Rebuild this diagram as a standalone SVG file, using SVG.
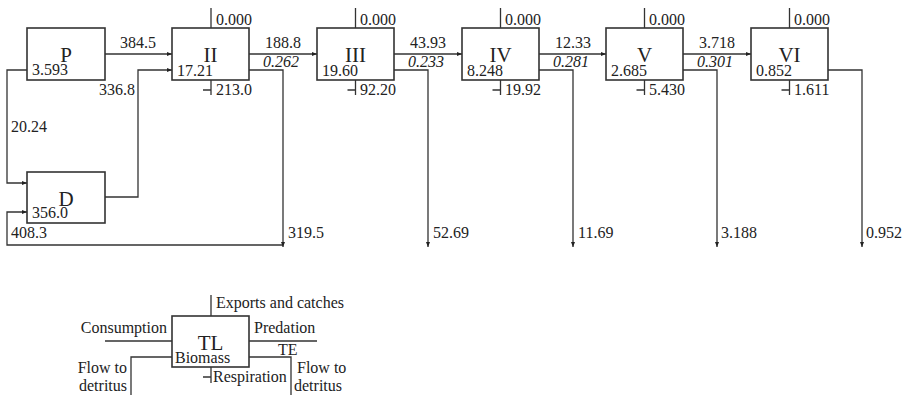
<svg xmlns="http://www.w3.org/2000/svg" width="904" height="395" viewBox="0 0 904 395">
<defs>
<marker id="ah" viewBox="0 0 10 10" refX="10" refY="5" markerWidth="5" markerHeight="5" orient="auto" markerUnits="userSpaceOnUse">
<path d="M0,1 L10,5 L0,9 Z" fill="#222"/>
</marker>
<style>
.box{fill:#fff;stroke:#333;stroke-width:1.6}
.ln{fill:none;stroke:#333;stroke-width:1.3}
.ar{fill:none;stroke:#333;stroke-width:1.3;marker-end:url(#ah)}
text{font-family:"Liberation Serif","Times New Roman",serif;fill:#222;font-size:16px}
.nm{font-size:21px;text-anchor:middle}
.mid{text-anchor:middle}
.it{font-style:italic;text-anchor:middle}
.end{text-anchor:end}
</style>
</defs>
<rect width="904" height="395" fill="#fff"/>

<g id="connectors">
<line class="ar" x1="105" y1="54" x2="172" y2="54"/>
<line class="ar" x1="249" y1="54" x2="317" y2="54"/>
<line class="ar" x1="394" y1="54" x2="462" y2="54"/>
<line class="ar" x1="539" y1="54" x2="606" y2="54"/>
<line class="ar" x1="683" y1="54" x2="751" y2="54"/>
<path class="ar" d="M27,70 H7 V183 H27"/>
<path class="ar" d="M105,197 H138 V70 H172"/>
<path class="ar" d="M283,245 H7 V212 H27"/>
<path class="ar" d="M249,70 H283 V247"/>
<path class="ar" d="M394,70 H428 V247"/>
<path class="ar" d="M539,70 H573 V247"/>
<path class="ar" d="M683,70 H717 V247"/>
<path class="ar" d="M828,70 H862 V247"/>
<path class="ln" d="M211,8 V28 M211,80 V95 M203,90 H211"/>
<path class="ln" d="M355.5,8 V28 M355.5,80 V95 M347.5,90 H355.5"/>
<path class="ln" d="M500.5,8 V28 M500.5,80 V95 M492.5,90 H500.5"/>
<path class="ln" d="M644.5,8 V28 M644.5,80 V95 M636.5,90 H644.5"/>
<path class="ln" d="M789.5,8 V28 M789.5,80 V95 M781.5,90 H789.5"/>
<text class="mid" x="138" y="48">384.5</text>
<text x="11" y="132">20.24</text>
<text x="99" y="95">336.8</text>
<text x="11" y="238">408.3</text>
<text class="mid" x="283" y="48">188.8</text>
<text class="it" x="281" y="67">0.262</text>
<text class="mid" x="428" y="48">43.93</text>
<text class="it" x="426" y="67">0.233</text>
<text class="mid" x="573" y="48">12.33</text>
<text class="it" x="571" y="67">0.281</text>
<text class="mid" x="717" y="48">3.718</text>
<text class="it" x="715" y="67">0.301</text>
<text x="288" y="238">319.5</text>
<text x="433" y="238">52.69</text>
<text x="578" y="238">11.69</text>
<text x="721" y="238">3.188</text>
<text x="866" y="238">0.952</text>
</g>

<g id="P">
<rect class="box" x="27" y="28" width="78" height="52"/>
<text class="nm" x="66" y="62">P</text>
<text x="32" y="75">3.593</text>
</g>
<g id="D">
<rect class="box" x="27" y="172" width="78" height="51"/>
<text class="nm" x="66" y="206">D</text>
<text x="32" y="218">356.0</text>
</g>
<g id="II">
<rect class="box" x="172" y="28" width="77" height="52"/>
<text class="nm" x="210.5" y="62">II</text>
<text x="177" y="76">17.21</text>
<text x="216" y="25">0.000</text>
<text x="216" y="95">213.0</text>
</g>
<g id="III">
<rect class="box" x="317" y="28" width="77" height="52"/>
<text class="nm" x="355.5" y="62">III</text>
<text x="322" y="76">19.60</text>
<text x="360" y="25">0.000</text>
<text x="360" y="95">92.20</text>
</g>
<g id="IV">
<rect class="box" x="462" y="28" width="77" height="52"/>
<text class="nm" x="500.5" y="62">IV</text>
<text x="467" y="76">8.248</text>
<text x="505" y="25">0.000</text>
<text x="505" y="95">19.92</text>
</g>
<g id="V">
<rect class="box" x="606" y="28" width="77" height="52"/>
<text class="nm" x="644.5" y="62">V</text>
<text x="611" y="76">2.685</text>
<text x="649" y="25">0.000</text>
<text x="649" y="95">5.430</text>
</g>
<g id="VI">
<rect class="box" x="751" y="28" width="77" height="52"/>
<text class="nm" x="789.5" y="62">VI</text>
<text x="756" y="76">0.852</text>
<text x="794" y="25">0.000</text>
<text x="794" y="95">1.611</text>
</g>

<g id="legend">
<path class="ln" d="M211,295 V316 M105,341 H172 M249,341 H317 M249,357 H291 V395 M172,357 H131 V395 M211,367 V383 M203,377 H211"/>
<rect class="box" x="172" y="316" width="77" height="51"/>
<text class="nm" x="210.5" y="350">TL</text>
<text x="216" y="308">Exports and catches</text>
<text class="end" x="167" y="333">Consumption</text>
<text x="254" y="333">Predation</text>
<text x="278" y="355">TE</text>
<text x="175" y="363">Biomass</text>
<text x="213" y="382">Respiration</text>
<text x="297" y="373">Flow to</text>
<text x="294" y="391">detritus</text>
<text class="end" x="127" y="373">Flow to</text>
<text class="end" x="127" y="391">detritus</text>
</g>
</svg>
